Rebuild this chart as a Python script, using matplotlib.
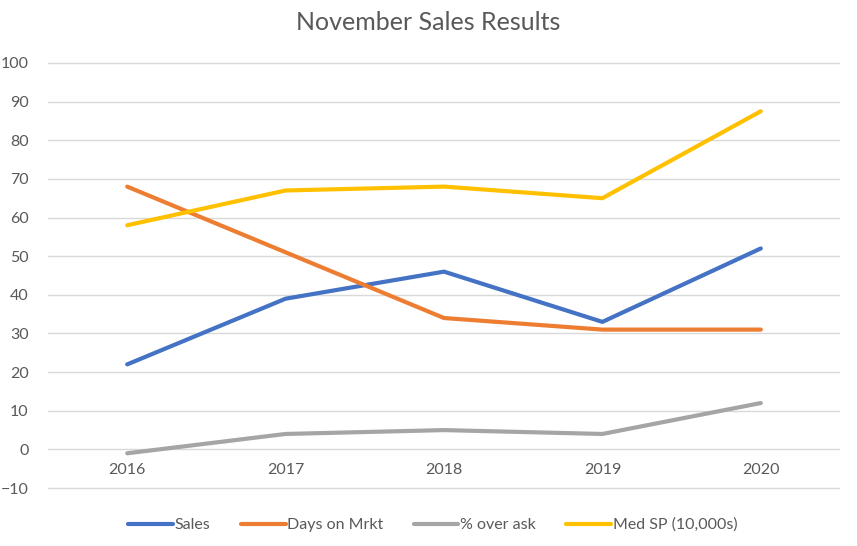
import matplotlib
matplotlib.use("Agg")
from matplotlib import pyplot as plt

# данні з графіка
years = ["2016", "2017", "2018", "2019", "2020"]
sales = [22, 39, 46, 33, 52]
days_on_mrkt = [68, 51, 34, 31, 31]
pct_over_ask = [-1, 4, 5, 4, 12]
med_sp = [58, 67, 68, 65, 87.5]

series = [
    ("Sales", sales, "#4472C4"),
    ("Days on Mrkt", days_on_mrkt, "#ED7D31"),
    ("% over ask", pct_over_ask, "#A5A5A5"),
    ("Med SP (10,000s)", med_sp, "#FFC000"),
]

plt.rcParams['font.family'] = ['Lato', 'DejaVu Sans']
text_color = "#595959"

fig = plt.figure(figsize=(8.57, 5.46), dpi=100)
ax = fig.add_axes([48 / 857, (546 - 490) / 546, 792 / 857, 429 / 546])

x = list(range(len(years)))
for name, values, color in series:
    ax.plot(x, values, color=color, linewidth=3.0, solid_capstyle="round",
            solid_joinstyle="round", label=name)

ax.set_xlim(-0.5, len(years) - 0.5)
ax.set_ylim(-10.5, 100.5)
ax.set_yticks(range(-10, 101, 10))
ax.set_xticks(x)
ax.set_xticklabels([])

ax.grid(axis="y", color="#D9D9D9", linewidth=1)
ax.set_axisbelow(True)
for side in ["top", "right", "left", "bottom"]:
    ax.spines[side].set_visible(False)
ax.tick_params(axis="both", length=0, colors=text_color, labelsize=11.5)
ax.tick_params(axis="y", pad=14)

# підписи років стоять між лініями 0 і -10
for i, year in enumerate(years):
    ax.text(i, -5.3, year, ha="center", va="center", fontsize=11.5, color=text_color)

fig.text(0.5, 1 - 22 / 546, "November Sales Results", ha="center", va="center",
         fontsize=18, color=text_color)

fig.legend(loc="center", bbox_to_anchor=(0.505, 1 - 525 / 546), ncol=4,
           frameon=False, fontsize=11.5, handlelength=2.8, handletextpad=0.1,
           columnspacing=1.9, labelcolor=text_color)

fig.savefig("out.png", dpi=100)
